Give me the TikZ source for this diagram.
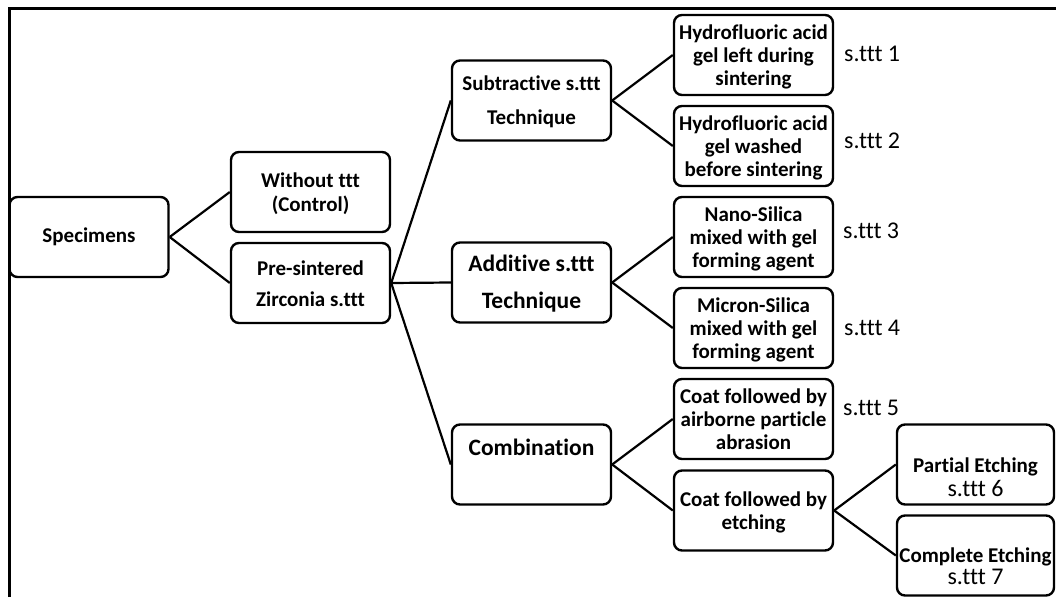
\documentclass[tikz,border=0pt]{standalone}
\usepackage{fontspec}
\setmainfont{Carlito}[Ligatures=NoCommon]
\newcommand\bxt[4][-3pt]{\raisebox{#1}[\height][\depth]{\fontsize{#2}{#3}\selectfont\begin{tabular}{@{}c@{}}#4\end{tabular}}}
\begin{document}
\begin{tikzpicture}[x=1pt,y=-1pt,
  box/.style={draw, line width=2.4pt, rounded corners=8pt, minimum width=159pt, minimum height=80pt, inner sep=0pt, font=\bfseries},
  conn/.style={line width=2.2pt},
  lab/.style={anchor=west, inner sep=0pt, font=\fontsize{24}{28}\selectfont}]
\useasboundingbox (0,0) rectangle (1056,597);
\draw[line width=3pt] (9.5,597) -- (9.5,8.5) -- (1056,8.5);

\node[box] (spec) at (89,237) {\bxt[-1pt]{21pt}{23pt}{Specimens}};
\node[box] (wo) at (310.5,192) {\bxt{21pt}{24pt}{Without ttt\\(Control)}};
\node[box] (pre) at (310.5,283) {\bxt[-1.5pt]{21pt}{31pt}{Pre-sintered\\Zirconia s.ttt}};
\node[box] (sub) at (531.5,100.5) {\bxt[-0.6pt]{21pt}{34pt}{Subtractive s.ttt\\Technique}};
\node[box] (add) at (531.5,282.5) {\bxt[0pt]{23.5pt}{37pt}{Additive s.ttt\\Technique}};
\node[box] (comb) at (531.5,464.5) {\bxt[14pt]{23.5pt}{26pt}{Combination}};
\node[box] (hf1) at (753.5,55) {\bxt{21pt}{23pt}{Hydrofluoric acid\\gel left during\\sintering}};
\node[box] (hf2) at (753.5,146) {\bxt{21pt}{23pt}{Hydrofluoric acid\\gel washed\\before sintering}};
\node[box] (nano) at (753.5,237) {\bxt{21pt}{23pt}{Nano-Silica\\mixed with gel\\forming agent}};
\node[box] (micron) at (753.5,328) {\bxt{21pt}{23pt}{Micron-Silica\\mixed with gel\\forming agent}};
\node[box] (coat1) at (753.5,419) {\bxt{21pt}{23pt}{Coat followed by\\airborne particle\\abrasion}};
\node[box] (coat2) at (753.5,510.5) {\bxt{21pt}{23pt}{Coat followed by\\etching}};
\node[box, minimum width=157pt] (part) at (975.5,464.5) {\bxt[-15.5pt]{21pt}{24pt}{Partial Etching\\\mdseries\fontsize{24pt}{24pt}\selectfont s.ttt 6}};
\node[box, minimum width=157pt] (comp) at (975.5,555.5) {\bxt[-14pt]{21pt}{22pt}{Complete Etching\\\mdseries\fontsize{24pt}{24pt}\selectfont s.ttt 7}};

\node[lab] (l1) at (844,54) {s.ttt 1};
\node[lab] (l2) at (844,141) {s.ttt 2};
\node[lab] (l3) at (843,231) {s.ttt 3};
\node[lab] (l4) at (844,328) {s.ttt 4};
\node[lab] (l5) at (843,408) {s.ttt 5};

\draw[conn] (spec.east) -- (wo.west);
\draw[conn] (spec.east) -- (pre.west);
\draw[conn] (pre.east) -- (sub.west);
\draw[conn] (pre.east) -- (add.west);
\draw[conn] (pre.east) -- (comb.west);
\draw[conn] (sub.east) -- (hf1.west);
\draw[conn] (sub.east) -- (hf2.west);
\draw[conn] (add.east) -- (nano.west);
\draw[conn] (add.east) -- (micron.west);
\draw[conn] (comb.east) -- (coat1.west);
\draw[conn] (comb.east) -- (coat2.west);
\draw[conn] (coat2.east) -- (part.west);
\draw[conn] (coat2.east) -- (comp.west);
\end{tikzpicture}
\end{document}
